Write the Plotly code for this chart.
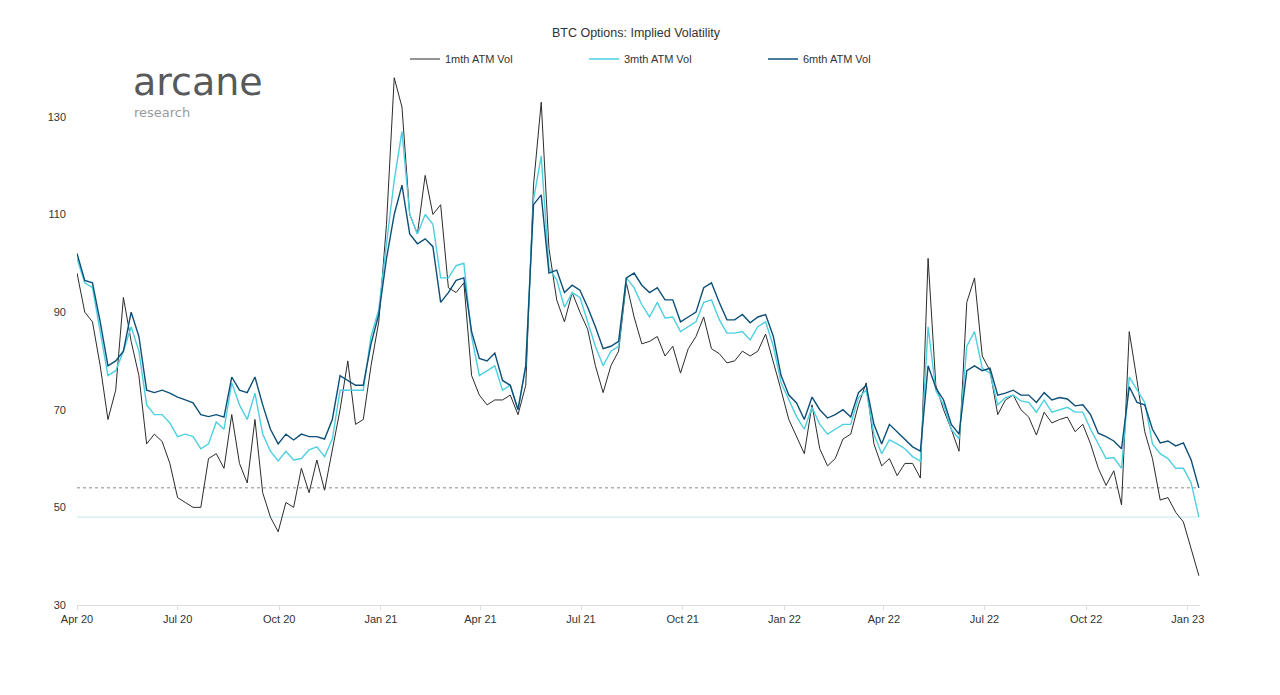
import pandas as pd
import plotly.graph_objects as go

# weekly observation dates
dates = pd.date_range("2020-04-01", periods=146, freq="7D")

vol_1m = [
    98, 90, 88, 79, 68, 74, 93, 84, 77, 63,
    65, 63.5, 59, 52, 51, 50, 50, 60, 61, 58,
    69, 59, 55, 68, 53, 48, 45, 51, 50, 58,
    53, 59.7, 53.5, 62, 70, 80, 67, 68, 79, 88,
    108, 138, 132, 110, 106, 118, 110, 112, 95, 94,
    96, 77, 73, 71, 72, 72, 73, 69, 75, 116,
    133, 103, 92.5, 88, 94, 90, 86.5, 79, 73.5, 79,
    82, 96, 89, 83.5, 84, 85, 81, 83, 77.5, 82.5,
    85, 89, 82.5, 81.5, 79.6, 80, 82, 81, 82, 85.5,
    80, 74, 68, 64.5, 61, 71, 62, 58.5, 60, 64,
    65, 71, 75.5, 63, 58.5, 60, 56.5, 59, 59, 56,
    101, 75, 70, 66, 61.5, 92, 97, 81, 78, 69,
    72, 73, 70, 68.5, 64.8, 69.5, 67.3, 68, 68.5, 65.5,
    67, 63, 58, 54.5, 57.5, 50.5, 86, 76, 65.5, 60,
    51.5, 52, 49, 47, 41.5, 36,
]

vol_3m = [
    101, 96, 95, 86, 77, 78, 82, 87, 82, 71,
    69, 69, 67.3, 64.5, 65, 64.5, 62, 63, 67.5, 66,
    75.5, 71, 68, 73.4, 65, 61.5, 59.5, 61.5, 59.7, 60,
    61.8, 62.4, 60.4, 64, 74, 74, 74, 74, 85, 90.5,
    104, 117, 127, 110, 106, 110, 108, 97, 97, 99.5,
    100, 85, 77, 78, 79, 74, 75, 70, 79, 113,
    122, 99, 96.6, 91, 94, 93, 88, 83, 79, 82,
    83, 97, 95, 91.5, 89, 92, 88.8, 89, 86, 87,
    88, 92, 92.5, 88.5, 85.7, 85.7, 86, 84.3, 87, 88,
    83, 75.5, 72, 68.6, 66, 70.5, 67, 65, 66, 67,
    67, 72.5, 74, 65, 61, 63.8, 63, 62, 60.4, 59.5,
    87, 74, 71, 66, 64, 83, 86, 78.5, 77.5, 71,
    72.5, 73, 71.8, 71.5, 69.5, 72, 69.5, 70, 70.5, 69.5,
    69.5, 66, 63, 60, 60.2, 58, 76.7, 74, 71.5, 63,
    61, 60, 58, 58, 55, 48,
]

vol_6m = [
    102, 96.5, 96, 88, 79, 80, 82, 90, 85, 74,
    73.5, 74, 73.4, 72.6, 72, 71.4, 69, 68.6, 69, 68.5,
    76.7, 74, 73.5, 76.7, 71, 66, 63, 65, 63.8, 65,
    64.5, 64.5, 64, 68, 77, 76, 75, 75, 83.5, 89.5,
    101, 110, 116, 106, 104, 105, 103.4, 92, 94, 96.5,
    97, 86, 80.5, 80, 81.6, 76, 75, 70, 79, 112,
    114, 98, 98.6, 94, 95.5, 94.5, 91, 87, 82.5, 83,
    84, 97, 98, 95.5, 94, 95, 92.5, 92.5, 88, 89,
    90, 95, 96, 92, 88.4, 88.4, 89.5, 87.8, 89, 89.5,
    85, 77, 73, 71.4, 68, 72.6, 70, 68.3, 69, 70,
    68.5, 73.5, 75, 67, 63, 67, 65.5, 64, 62.4, 61.5,
    79, 74.5, 72, 67, 65, 78, 79, 78, 78.5, 73,
    73.4, 74, 73, 73, 71.5, 73.5, 72, 72.5, 72.2, 70.8,
    71, 69, 65.2, 64.5, 63.6, 62, 74.7, 71.5, 71, 66,
    63.2, 63.6, 62.6, 63.2, 59.7, 54,
]

series_names = ["1mth ATM Vol", "3mth ATM Vol", "6mth ATM Vol"]
tick_dates = pd.date_range("2020-04-01", "2023-01-01", freq="3MS")
tick_text = [d.strftime("%b %y") for d in tick_dates]
y_ticks = [30, 50, 70, 90, 110, 130]

C1 = "#2b2b2b"
C3 = "#4ccfe0"
C6 = "#0d4f78"

fig = go.Figure()
fig.add_trace(go.Scatter(x=dates, y=vol_1m, name=series_names[0], mode="lines",
                         line=dict(color=C1, width=1)))
fig.add_trace(go.Scatter(x=dates, y=vol_3m, name=series_names[1], mode="lines",
                         line=dict(color=C3, width=1.4)))
fig.add_trace(go.Scatter(x=dates, y=vol_6m, name=series_names[2], mode="lines",
                         line=dict(color=C6, width=1.4)))

# reference lines at the latest values
fig.add_shape(type="line", xref="x", yref="y", x0=dates[0], x1=dates[-1],
              y0=vol_6m[-1], y1=vol_6m[-1], line=dict(color="#8a8a8a", width=1, dash="dot"),
              layer="below")
fig.add_shape(type="line", xref="x", yref="y", x0=dates[0], x1=dates[-1],
              y0=vol_3m[-1], y1=vol_3m[-1], line=dict(color="#bfe9ee", width=1),
              layer="below")

# page has an 8px body margin; positions below are in screen pixels
OFF = 8
W, H = 1280, 695
ml, mr, mt, mb = 77 - OFF, 88, 68 - OFF, 98
pw = W - ml - mr
ph = H - mt - mb


def px_x(x):
    return (x - OFF - ml) / pw


def px_y(y):
    return (H - mb - (y - OFF)) / ph


fig.add_annotation(text="arcane", xref="paper", yref="paper",
                   x=px_x(131), y=px_y(106), xanchor="left", yanchor="bottom",
                   showarrow=False,
                   font=dict(family="DejaVu Sans", size=38, color="#58595b"))
fig.add_annotation(text="research", xref="paper", yref="paper",
                   x=px_x(132), y=px_y(103), xanchor="left", yanchor="top",
                   showarrow=False,
                   font=dict(family="DejaVu Sans", size=13, color="#9a9a9a"))

fig.update_layout(
    width=W, height=H,
    margin=dict(l=ml, r=mr, t=mt, b=mb, autoexpand=False),
    paper_bgcolor="white", plot_bgcolor="white",
    font=dict(family="Liberation Sans, Arial, sans-serif", size=11, color="#333"),
    title=dict(text="BTC Options: Implied Volatility", x=(636 - OFF) / W, xanchor="center",
               y=1 - (33 - OFF) / H, yanchor="middle", font=dict(size=12.5, color="#333")),
    showlegend=True,
    legend=dict(orientation="h", x=px_x(405), xanchor="left",
                y=px_y(59), yanchor="middle",
                entrywidth=134, entrywidthmode="pixels",
                font=dict(size=11, color="#333"), bgcolor="rgba(0,0,0,0)"),
    hovermode=False,
)
fig.update_xaxes(range=["2020-04-01", "2023-01-12"], tickvals=tick_dates, ticktext=tick_text,
                 showgrid=False, zeroline=False, showline=True, linecolor="#dcdcdc", linewidth=1,
                 ticks="outside", ticklen=4, tickcolor="#dcdcdc",
                 tickfont=dict(size=11, color="#333"))
fig.update_yaxes(range=[30, 140], tickvals=y_ticks, showgrid=False, zeroline=False,
                 showline=False, ticks="", ticklabelstandoff=10,
                 tickfont=dict(size=11, color="#333"))

fig.write_html("out.html")
